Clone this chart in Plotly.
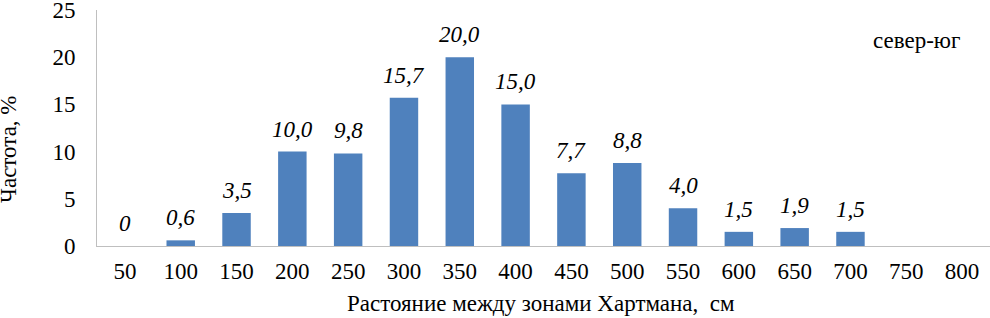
import plotly.graph_objects as go

categories = ["50", "100", "150", "200", "250", "300", "350", "400", "450", "500",
              "550", "600", "650", "700", "750", "800"]
values = [0, 0.6, 3.5, 10.0, 9.8, 15.7, 20.0, 15.0, 7.7, 8.8, 4.0, 1.5, 1.9, 1.5, None, None]
labels = ["0", "0,6", "3,5", "10,0", "9,8", "15,7", "20,0", "15,0", "7,7", "8,8",
          "4,0", "1,5", "1,9", "1,5", "", ""]
y_ticks = [0, 5, 10, 15, 20, 25]

FONT = "Liberation Serif"
FS = 23

fig = go.Figure()
fig.add_trace(go.Bar(
    x=categories, y=[v if v is not None else 0 for v in values],
    marker=dict(color="#4F81BD", line=dict(width=0)),
    width=0.51,
    hoverinfo="skip",
))

annotations = []
for i, (c, v, t) in enumerate(zip(categories, values, labels)):
    if v is None or t == "":
        continue
    annotations.append(dict(
        x=i, y=v, xref="x", yref="y", text=t, showarrow=False,
        xanchor="center", yanchor="bottom", yshift=8,
        font=dict(family=FONT, size=FS, color="#000000", style="italic"),
    ))

annotations.append(dict(
    x=(8 - 97) / 893, y=(246 - 149) / 236, xref="paper", yref="paper",
    text="Частота, %", textangle=-90, showarrow=False,
    xanchor="center", yanchor="middle",
    font=dict(family=FONT, size=FS, color="#000000"),
))
annotations.append(dict(
    x=(541 - 97) / 893, y=(246 - 303) / 236, xref="paper", yref="paper",
    text="Растояние между зонами Хартмана,  см", showarrow=False,
    xanchor="center", yanchor="middle",
    font=dict(family=FONT, size=FS, color="#000000"),
))
annotations.append(dict(
    x=(916 - 97) / 893, y=(246 - 40) / 236, xref="paper", yref="paper",
    text="север-юг", showarrow=False,
    xanchor="center", yanchor="middle",
    font=dict(family=FONT, size=FS, color="#000000"),
))

fig.update_layout(
    width=990, height=318,
    margin=dict(l=97, r=0, t=10, b=72, autoexpand=False),
    paper_bgcolor="white", plot_bgcolor="white",
    showlegend=False,
    bargap=0.49,
    annotations=annotations,
    font=dict(family=FONT, size=FS, color="#000000"),
    xaxis=dict(
        type="category", range=[-0.5, 15.5], autorange=False,
        showgrid=False, showline=True, linecolor="#BFBFBF", linewidth=1,
        ticks="", ticklabelstandoff=4, automargin=False,
        tickfont=dict(family=FONT, size=FS, color="#000000"),
        fixedrange=True,
    ),
    yaxis=dict(
        range=[0, 25], autorange=False, tickvals=y_ticks, showgrid=False, zeroline=False,
        showline=True, linecolor="#BFBFBF", linewidth=1,
        ticks="", ticklabelstandoff=16, automargin=False,
        ticklabeloverflow="allow",
        tickfont=dict(family=FONT, size=FS, color="#000000"),
        fixedrange=True,
    ),
)

fig.write_html("out.html", config={"displayModeBar": False},
               post_script="document.body.style.margin='0';document.body.style.padding='0';")
